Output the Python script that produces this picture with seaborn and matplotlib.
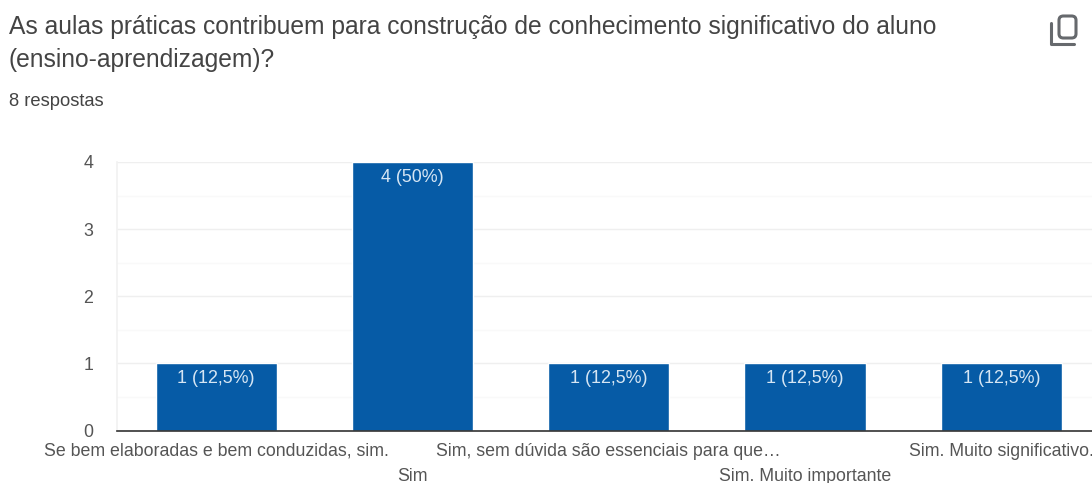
import matplotlib
matplotlib.use("Agg")
import matplotlib.pyplot as plt
import seaborn as sns
import pandas as pd
from matplotlib.patches import FancyBboxPatch
from matplotlib.lines import Line2D

categories = ["Se bem elaboradas e bem conduzidas, sim.", "Sim",
              "Sim, sem dúvida são essenciais para que…",
              "Sim. Muito importante", "Sim. Muito significativo."]
counts = [1, 4, 1, 1, 1]
value_labels = ["1 (12,5%)", "4 (50%)", "1 (12,5%)", "1 (12,5%)", "1 (12,5%)"]
title_lines = ["As aulas práticas contribuem para construção de conhecimento significativo do aluno",
               "(ensino-aprendizagem)?"]
subtitle = "8 respostas"

W, H = 1092, 483
sns.set_theme(style="white")
plt.rcParams["font.family"] = ["Liberation Sans", "DejaVu Sans"]
fig = plt.figure(figsize=(W / 100, H / 100), dpi=100, facecolor="white")
ax = fig.add_axes([117 / W, 1 - 430.5 / H, (W - 117) / W, 268.5 / H])

df = pd.DataFrame({"cat": categories, "n": counts})
sns.barplot(data=df, x="cat", y="n", color="#065BA6", saturation=1, width=0.617, ax=ax, zorder=3)
ax.set_xlim(-0.505, 4.462)
ax.set_ylim(0, 4)
ax.set_xlabel("")
ax.set_ylabel("")
ax.set_yticks([0, 1, 2, 3, 4])
ax.set_yticks([0.5, 1.5, 2.5, 3.5], minor=True)
ax.grid(axis="y", which="major", color="#EFEFEF", lw=1, zorder=0)
ax.grid(axis="y", which="minor", color="#F9F9F9", lw=1, zorder=0)
ax.tick_params(axis="y", which="both", length=0, pad=17, labelsize=12.8, labelcolor="#555555")
ax.tick_params(axis="x", length=0, pad=9, labelsize=12.8, labelcolor="#555555")
ax.set_xticks(range(len(categories)))
ax.set_xticklabels([c if i % 2 == 0 else "\n" + c for i, c in enumerate(categories)], linespacing=1.6)
for s in ["top", "right"]:
    ax.spines[s].set_visible(False)
ax.spines["left"].set_color("#F2F2F2")
ax.spines["bottom"].set_color("#333333")
ax.spines["bottom"].set_linewidth(1.2)
ax.spines["bottom"].set_zorder(5)

for i, (v, lab) in enumerate(zip(counts, value_labels)):
    ax.annotate(lab, (i, v), xytext=(0, -5), textcoords="offset points", ha="center", va="top",
                color="#D6E6F4", fontsize=12.9, zorder=6)

def px(x, y):
    return x / W, 1 - y / H

fig.text(*px(9, 27), title_lines[0], fontsize=17.7, color="#444444", va="center", ha="left")
fig.text(*px(9, 60), title_lines[1], fontsize=17.7, color="#444444", va="center", ha="left")
fig.text(*px(9, 101), subtitle, fontsize=13.2, color="#444444", va="center", ha="left")

# copy icon
fig.add_artist(FancyBboxPatch(px(1059, 38), 17 / W, 22 / H, boxstyle="round,pad=0,rounding_size=0.004",
                              mutation_aspect=2.2, fill=False, ec="#66696D", lw=2.2,
                              transform=fig.transFigure))
xs, ys = zip(*[px(1051, 23), px(1051, 44), px(1074, 44)])
fig.add_artist(Line2D(xs, ys, color="#66696D", lw=2.2, transform=fig.transFigure))

fig.savefig("out.png", dpi=100)
